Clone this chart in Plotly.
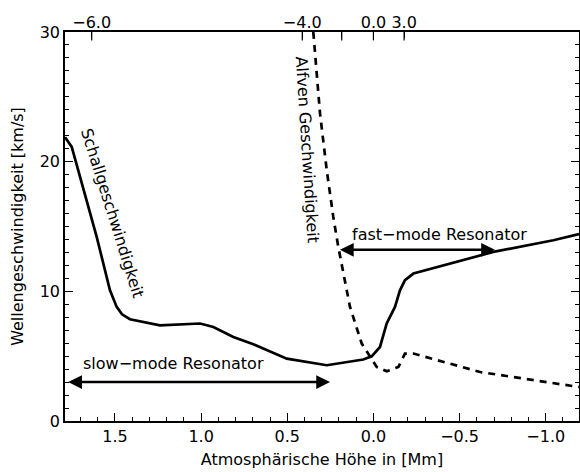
import plotly.graph_objects as go

# Sound speed (Schallgeschwindigkeit) versus height [Mm] / speed [km/s]
schall_h = [1.79, 1.751, 1.606, 1.529, 1.49, 1.459, 1.413, 1.239, 1.006, 0.929,
            0.813, 0.697, 0.503, 0.271, 0.059, 0.01, -0.038, -0.077, -0.125,
            -0.154, -0.183, -0.232, -0.696, -1.044, -1.193]
schall_v = [21.89, 21.14, 14.2, 10.08, 8.8, 8.23, 7.85, 7.38, 7.52, 7.25,
            6.48, 5.92, 4.81, 4.30, 4.74, 4.99, 5.71, 7.52, 8.8,
            10.08, 10.86, 11.37, 13.04, 13.94, 14.41]

# Alfven speed versus height
alfven_h = [0.349, 0.31, 0.271, 0.233, 0.204, 0.136, 0.068, -0.019, -0.077,
            -0.145, -0.183, -0.232, -0.619, -1.193]
alfven_v = [30.0, 23.72, 19.34, 15.74, 13.43, 8.8, 5.97, 4.17, 3.83,
            4.17, 5.2, 5.2, 3.78, 2.62]

# Resonator extents: (start height, end height, speed level)
slow_res = (1.78, 0.252, 3.0)
fast_res = (0.203, -0.705, 13.2)

# Top axis ticks (positions on the height scale, labels)
top_tickvals = [1.635, 0.413, 0.184, 0.0, -0.178]
top_ticktext = ["\u22126.0", "\u22124.0", "", "0.0", "3.0"]

x_range = [1.79, -1.193]
y_range = [0, 30]

FONT = "DejaVu Sans"
TICK = "black"

fig = go.Figure()
fig.add_trace(go.Scatter(x=schall_h, y=schall_v, mode="lines",
                         line=dict(color="black", width=2.7),
                         showlegend=False, hoverinfo="skip"))
fig.add_trace(go.Scatter(x=alfven_h, y=alfven_v, mode="lines",
                         line=dict(color="black", width=2.7, dash="7px,6px"),
                         showlegend=False, hoverinfo="skip"))
# top-axis tick marks: markers on the upper plot edge, clipped to the plot area
fig.add_trace(go.Scatter(x=top_tickvals, y=[y_range[1]] * len(top_tickvals),
                         mode="markers", cliponaxis=True,
                         marker=dict(symbol="line-ns", size=12, color=TICK,
                                     line=dict(color=TICK, width=1.2)),
                         showlegend=False, hoverinfo="skip"))
# invisible trace carrying the top axis labels
fig.add_trace(go.Scatter(x=[x_range[0]], y=[0], xaxis="x2", yaxis="y2",
                         mode="markers", marker=dict(opacity=0),
                         showlegend=False, hoverinfo="skip"))

annotations = []
for (h0, h1, v) in (slow_res, fast_res):
    annotations.append(dict(x=h1, y=v, ax=h0, ay=v, xref="x", yref="y",
                            axref="x", ayref="y", text="", showarrow=True,
                            arrowhead=2, arrowsize=1.1, arrowwidth=2.5,
                            arrowside="end+start", arrowcolor="black",
                            standoff=0, startstandoff=0))

label_font = dict(family=FONT, size=16, color="black")
annotations += [
    dict(x=1.16, y=4.4, text="slow\u2212mode Resonator", showarrow=False,
         font=label_font, xref="x", yref="y"),
    dict(x=-0.386, y=14.35, text="fast\u2212mode Resonator", showarrow=False,
         font=label_font, xref="x", yref="y"),
    dict(x=1.517, y=16.05, text="Schallgeschwindigkeit", showarrow=False,
         textangle=72.6, font=label_font, xref="x", yref="y"),
    dict(x=0.381, y=20.9, text="Alfven Geschwindigkeit", showarrow=False,
         textangle=86.3, font=label_font, xref="x", yref="y"),
]

fig.update_layout(
    width=580, height=472,
    margin=dict(l=65, r=1, t=32, b=51, autoexpand=False),
    paper_bgcolor="white", plot_bgcolor="rgba(0,0,0,0)",
    font=dict(family=FONT, size=16, color="black"),
    annotations=annotations,
    xaxis=dict(range=x_range, tickmode="linear", tick0=0, dtick=0.5,
               tickformat=".1f", automargin=False,
               ticks="inside", ticklen=8, tickwidth=1.2, tickcolor=TICK,
               showline=True, linecolor="black", linewidth=1.5, mirror=True,
               showgrid=False, zeroline=False,
               minor=dict(dtick=0.1, tick0=0, ticks="inside", ticklen=4,
                          tickwidth=1.2, tickcolor=TICK, showgrid=False),
               title=dict(text="Atmosph\u00e4rische H\u00f6he in [Mm]",
                          font=dict(family=FONT, size=16), standoff=9)),
    xaxis2=dict(range=x_range, side="top", anchor="y2", automargin=False,
                tickmode="array", tickvals=top_tickvals,
                ticktext=top_ticktext, ticks="inside", ticklen=6,
                tickwidth=1.2, tickcolor=TICK,
                showgrid=False, zeroline=False, showline=False),
    yaxis2=dict(range=y_range, anchor="x2", visible=False, showgrid=False,
                automargin=False),
    yaxis=dict(range=y_range, tickmode="linear", tick0=0, dtick=10,
               automargin=False,
               ticks="inside", ticklen=8, tickwidth=1.2,
               tickcolor=TICK, showline=True, linecolor="black",
               linewidth=1.5, mirror="ticks", showgrid=False, zeroline=False,
               minor=dict(dtick=1, tick0=0, ticks="inside", ticklen=4,
                          tickwidth=1.2, tickcolor=TICK, showgrid=False),
               title=dict(text="Wellengeschwindigkeit [km/s]",
                          font=dict(family=FONT, size=16), standoff=12)),
)

fig.write_html("out.html")
